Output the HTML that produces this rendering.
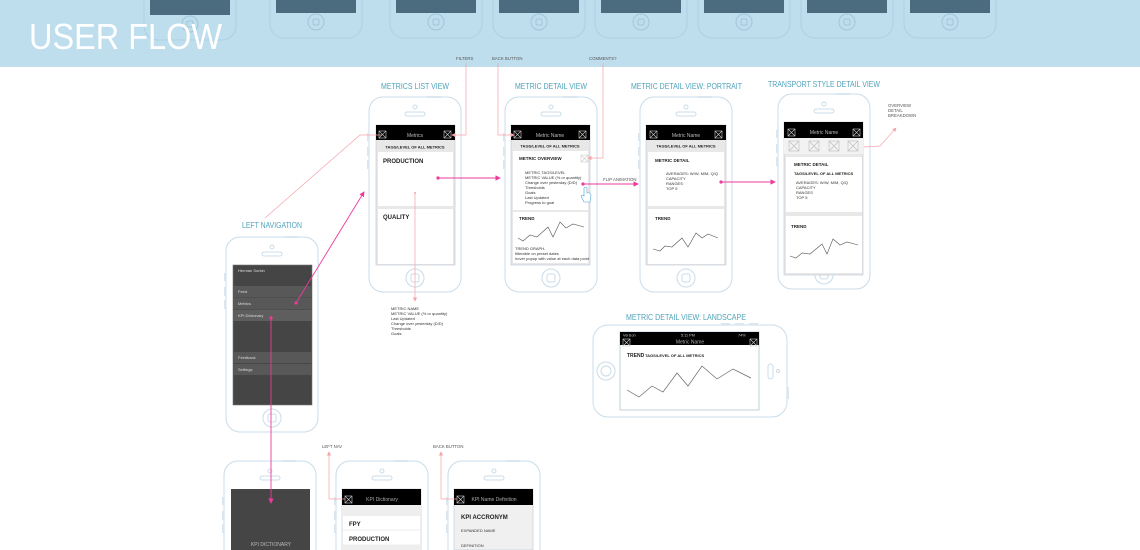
<!DOCTYPE html>
<html><head><meta charset="utf-8"><style>
html,body{margin:0;padding:0;background:#fff;width:1140px;height:550px;overflow:hidden}
svg{display:block;font-family:"Liberation Sans",sans-serif}
.t{fill:#4ea3ba;font-size:8.5px}
.s{font-size:4px;fill:#333}
.n{font-family:"Liberation Sans Narrow","Liberation Sans",sans-serif;font-weight:bold;fill:#222}
.a{font-size:4.3px;fill:#555}
</style></head><body>
<svg width="1140" height="550" viewBox="0 0 1140 550">
<defs>
<g id="ph">
<rect x="0" y="0" width="92" height="195" rx="14" fill="#fff" stroke="#c9dce9" stroke-width="1"/>
<circle cx="46" cy="10" r="2" fill="none" stroke="#c9dce9"/>
<rect x="36" y="15" width="20" height="4" rx="2" fill="none" stroke="#c9dce9"/>
<circle cx="46" cy="181" r="9" fill="none" stroke="#c9dce9"/>
<rect x="42" y="177" width="8" height="8" rx="2" fill="none" stroke="#c9dce9"/>
<rect x="-2" y="36" width="2" height="8" fill="#dbe7f0"/>
<rect x="-2" y="50" width="2" height="9" fill="#dbe7f0"/>
<rect x="-2" y="63" width="2" height="9" fill="#dbe7f0"/>
<rect x="58" y="-1" width="14" height="2" fill="#dbe7f0"/>
</g>
<g id="hp">
<rect x="0" y="-160" width="92" height="200" rx="14" fill="none" stroke="#acd0e2"/>
<rect x="6" y="-20" width="80" height="35" fill="#4b6b7e"/>
<circle cx="46" cy="24" r="8" fill="none" stroke="#9fc6da"/>
<rect x="43" y="21" width="6" height="6" rx="1.5" fill="none" stroke="#9fc6da"/>
</g>
<g id="xb"><rect x="0" y="0" width="7" height="7" fill="none" stroke="#ccc" stroke-width=".6"/><path d="M0 0L7 7M7 0L0 7" stroke="#ccc" stroke-width=".6"/></g>
<marker id="ar" markerWidth="6" markerHeight="6" refX="5" refY="3" orient="auto"><path d="M0 0L6 3L0 6z" fill="#ee3a9c"/></marker>
<marker id="al" markerWidth="6" markerHeight="6" refX="5" refY="3" orient="auto"><path d="M0 0L6 3L0 6z" fill="#f6a3ab"/></marker>
</defs>

<!-- header -->
<rect x="0" y="0" width="1140" height="67" fill="#bfdeed"/>
<use href="#hp" x="144" y="0"/><use href="#hp" x="270" y="-2"/><use href="#hp" x="390" y="-2"/><use href="#hp" x="493" y="-2"/><use href="#hp" x="595" y="-2"/><use href="#hp" x="698" y="-2"/><use href="#hp" x="801" y="-2"/><use href="#hp" x="904" y="-2"/>
<text x="29" y="49" fill="#fff" font-size="36" textLength="193" lengthAdjust="spacingAndGlyphs">USER FLOW</text>
<text x="456" y="60" class="a" font-size="4">FILTERS</text>
<text x="492" y="60" class="a" font-size="4">BACK BUTTON</text>
<text x="589" y="60" class="a" font-size="4">COMMENTS?</text>

<!-- titles -->
<text x="381" y="89" class="t" textLength="68" lengthAdjust="spacingAndGlyphs">METRICS LIST VIEW</text>
<text x="515" y="89" class="t" textLength="72" lengthAdjust="spacingAndGlyphs">METRIC DETAIL VIEW</text>
<text x="631" y="89" class="t" textLength="111" lengthAdjust="spacingAndGlyphs">METRIC DETAIL VIEW: PORTRAIT</text>
<text x="768" y="87" class="t" textLength="112" lengthAdjust="spacingAndGlyphs">TRANSPORT STYLE DETAIL VIEW</text>
<text x="242" y="228" class="t" textLength="60" lengthAdjust="spacingAndGlyphs">LEFT NAVIGATION</text>
<text x="626" y="320" class="t" textLength="120" lengthAdjust="spacingAndGlyphs">METRIC DETAIL VIEW:  LANDSCAPE</text>

<!-- phones -->
<use href="#ph" x="369" y="97"/>
<use href="#ph" x="505" y="97"/>
<use href="#ph" x="640" y="97"/>
<use href="#ph" x="778" y="94"/>
<use href="#ph" x="226" y="237"/>
<use href="#ph" x="224" y="461"/>
<use href="#ph" x="336" y="461"/>
<use href="#ph" x="448" y="461"/>

<!-- metrics list screen -->
<rect x="376" y="125" width="79" height="140" fill="#e8e8e8" stroke="#b9c6d2" stroke-width=".6"/>
<rect x="376" y="125" width="79" height="15" fill="#000"/>
<text x="415" y="137" font-size="5" fill="#bbb" text-anchor="middle">Metrics</text>
<use href="#xb" x="379" y="131"/>
<use href="#xb" x="444" y="131"/>
<text x="415" y="148.5" class="n" font-size="4" text-anchor="middle">TAGS/LEVEL OF ALL METRICS</text>
<rect x="378" y="152" width="75" height="54" fill="#fff"/>
<text x="383" y="163" class="n" font-size="6">PRODUCTION</text>
<rect x="378" y="209" width="75" height="55" fill="#fff"/>
<text x="383" y="219" class="n" font-size="6">QUALITY</text>

<!-- detail screen -->
<rect x="511" y="125" width="79" height="140" fill="#e8e8e8" stroke="#b9c6d2" stroke-width=".6"/>
<rect x="511" y="125" width="79" height="15" fill="#000"/>
<text x="550" y="137" font-size="5" fill="#bbb" text-anchor="middle">Metric Name</text>
<use href="#xb" x="514" y="131"/><use href="#xb" x="579" y="131"/>
<text x="550" y="147.5" class="n" font-size="4" text-anchor="middle">TAGS/LEVEL OF ALL METRICS</text>
<rect x="513" y="151" width="75" height="59" fill="#fff"/>
<text x="519" y="160" class="n" font-size="4.5">METRIC OVERVIEW</text>
<use href="#xb" x="581" y="155"/>
<text x="525" y="174" class="s">METRIC TAGS/LEVEL</text>
<text x="525" y="179" class="s">METRIC VALUE (% or quantity)</text>
<text x="525" y="184" class="s" fill="#888">Change over yesterday (D/D)</text>
<text x="525" y="189" class="s" fill="#888">Thresholds</text>
<text x="525" y="194" class="s" fill="#888">Goals</text>
<text x="525" y="199" class="s" fill="#888">Last Updated</text>
<text x="525" y="204" class="s" fill="#3a9ab8">Progress to goal</text>
<rect x="513" y="212" width="75" height="51" fill="#fff"/>
<text x="519" y="220" class="n" font-size="4.5">TREND</text>
<polyline points="518,238 523,241 530,235 537,237 548,227 553,237 560,222 566,228 573,224 584,227" fill="none" stroke="#555" stroke-width=".6"/>
<text x="515" y="250" class="s">TREND GRAPH-</text>
<text x="515" y="255" class="s">filterable on preset dates</text>
<text x="515" y="260" class="s">hover popup with value at each data point</text>
<path d="M584 188 q2 -2 3 0 l0 5 q3 -1 4 2 l-1 7 l-6 0 l-3 -6 q1 -2 3 0z" fill="#fff" stroke="#4aa6d0" stroke-width=".6"/>

<!-- portrait screen -->
<rect x="646" y="125" width="80" height="140" fill="#e8e8e8" stroke="#b9c6d2" stroke-width=".6"/>
<rect x="646" y="125" width="80" height="15" fill="#000"/>
<text x="686" y="137" font-size="5" fill="#bbb" text-anchor="middle">Metric Name</text>
<use href="#xb" x="650" y="131"/><use href="#xb" x="715" y="131"/>
<text x="686" y="147.5" class="n" font-size="4" text-anchor="middle">TAGS/LEVEL OF ALL METRICS</text>
<rect x="648" y="152" width="76" height="54" fill="#fff"/>
<text x="655" y="162" class="n" font-size="4.5">METRIC DETAIL</text>
<text x="666" y="175" class="s">AVERAGES:  W/W, M/M, Q/Q</text>
<text x="666" y="180" class="s">CAPACITY</text>
<text x="666" y="185" class="s">RANGES</text>
<text x="666" y="190" class="s">TOP 5</text>
<rect x="648" y="209" width="76" height="55" fill="#fff"/>
<text x="655" y="220" class="n" font-size="4.5">TREND</text>
<polyline points="653,249 660,251 665,246 672,247 682,238 688,247 696,233 702,238 708,234 718,238" fill="none" stroke="#555" stroke-width=".6"/>

<!-- transport screen -->
<rect x="784" y="122" width="79" height="153" fill="#e8e8e8" stroke="#b9c6d2" stroke-width=".6"/>
<rect x="784" y="122" width="79" height="16" fill="#000"/>
<text x="824" y="134" font-size="5" fill="#bbb" text-anchor="middle">Metric Name</text>
<use href="#xb" x="788" y="129"/><use href="#xb" x="853" y="129"/>
<rect x="784" y="138" width="79" height="16" fill="#f2f2f2"/>
<g><rect x="789" y="141" width="10" height="10" fill="none" stroke="#bbb" stroke-width=".6"/><path d="M789 141l10 10M799 141l-10 10" stroke="#bbb" stroke-width=".6"/>
<rect x="809" y="141" width="10" height="10" fill="none" stroke="#bbb" stroke-width=".6"/><path d="M809 141l10 10M819 141l-10 10" stroke="#bbb" stroke-width=".6"/>
<rect x="829" y="141" width="10" height="10" fill="none" stroke="#bbb" stroke-width=".6"/><path d="M829 141l10 10M839 141l-10 10" stroke="#bbb" stroke-width=".6"/>
<rect x="848" y="141" width="10" height="10" fill="none" stroke="#bbb" stroke-width=".6"/><path d="M848 141l10 10M858 141l-10 10" stroke="#bbb" stroke-width=".6"/></g>
<rect x="786" y="157" width="76" height="55" fill="#fff"/>
<text x="794" y="166" class="n" font-size="4.5">METRIC DETAIL</text>
<text x="794" y="175" class="n" font-size="4">TAGS/LEVEL OF ALL METRICS</text>
<text x="796" y="184" class="s">AVERAGES:  W/W, M/M, Q/Q</text>
<text x="796" y="189" class="s">CAPACITY</text>
<text x="796" y="194" class="s">RANGES</text>
<text x="796" y="199" class="s">TOP 5</text>
<rect x="786" y="216" width="76" height="57" fill="#fff"/>
<text x="791" y="228" class="n" font-size="4.5">TREND</text>
<polyline points="790,256 796,258 802,253 810,254 822,244 827,254 833,239 840,245 847,242 858,245" fill="none" stroke="#555" stroke-width=".6"/>
<text x="888" y="107" class="a" font-size="4">OVERVIEW</text>
<text x="888" y="112" class="a" font-size="4">DETAIL</text>
<text x="888" y="117" class="a" font-size="4">BREAKDOWN</text>
<polyline points="864,147 880,146 896,128" fill="none" stroke="#f6a3ab" stroke-width=".7" marker-end="url(#al)"/>

<!-- left nav screen -->
<rect x="233" y="265" width="79" height="140" fill="#454545" stroke="#777" stroke-width=".6"/>
<text x="238" y="272" font-size="4" fill="#ddd">Herman Sorkin</text>
<rect x="233" y="286" width="79" height="11.5" fill="#585858"/>
<rect x="233" y="298" width="79" height="11.5" fill="#585858"/>
<rect x="233" y="310" width="79" height="11" fill="#5e5e5e"/>
<rect x="233" y="352" width="79" height="11" fill="#585858"/>
<rect x="233" y="364" width="79" height="11" fill="#585858"/>
<text x="238" y="293" font-size="4" fill="#ddd">Feed</text>
<text x="238" y="305" font-size="4" fill="#ddd">Metrics</text>
<text x="238" y="317" font-size="4" fill="#ddd">KPI Dictionary</text>
<text x="238" y="359" font-size="4" fill="#ddd">Feedback</text>
<text x="238" y="371" font-size="4" fill="#ddd">Settings</text>

<!-- landscape -->
<rect x="593" y="325" width="194" height="92" rx="15" fill="#fff" stroke="#c9dce9"/>
<circle cx="606" cy="371" r="9" fill="none" stroke="#c9dce9"/><circle cx="606" cy="371" r="5" fill="none" stroke="#c9dce9"/>
<rect x="768" y="364" width="5" height="15" rx="2.5" fill="none" stroke="#c9dce9"/>
<circle cx="778" cy="371" r="1.5" fill="none" stroke="#c9dce9"/>
<rect x="787" y="387" width="2" height="12" fill="#dbe7f0"/>
<rect x="721" y="323" width="9" height="2" fill="#dbe7f0"/><rect x="735" y="323" width="9" height="2" fill="#dbe7f0"/><rect x="749" y="323" width="9" height="2" fill="#dbe7f0"/>
<rect x="620" y="332" width="139" height="78" fill="#fff" stroke="#a9bccb" stroke-width=".7"/>
<rect x="620" y="332" width="139" height="13" fill="#000"/>
<text x="623" y="336.5" font-size="3.8" fill="#ccc">Verizon</text>
<text x="681" y="336.5" font-size="3.8" fill="#ccc">5:11 PM</text>
<text x="738" y="336.5" font-size="3.8" fill="#ccc">74%</text>
<text x="690" y="343.5" font-size="5" fill="#aaa" text-anchor="middle">Metric Name</text>
<use href="#xb" x="623" y="339"/>
<use href="#xb" x="750" y="339"/>
<text x="627" y="357" class="n" font-size="5">TREND</text>
<text x="645" y="357" class="n" font-size="4">TAGS/LEVEL OF ALL METRICS</text>
<polyline points="627,390 639,397 652,386 663,392 677,373 688,386 702,366 717,379 733,369 751,378" fill="none" stroke="#666" stroke-width=".7"/>

<!-- annotation under list -->
<text x="391" y="310" class="s">METRIC NAME</text>
<text x="391" y="315" class="s">METRIC VALUE (% or quantity)</text>
<text x="391" y="320" class="s">Last Updated</text>
<text x="391" y="325" class="s" fill="#3a9ab8">Change over yesterday (D/D)</text>
<text x="391" y="330" class="s" fill="#3a9ab8">Thresholds</text>
<text x="391" y="335" class="s" fill="#3a9ab8">Goals</text>
<circle cx="415" cy="193" r="1" fill="#f6a3ab"/>
<line x1="415" y1="193" x2="415" y2="301" stroke="#f6a3ab" stroke-width=".7" marker-end="url(#al)"/>

<!-- bottom phones screens -->
<rect x="231" y="489" width="79" height="61" fill="#454545"/>
<text x="271" y="546" font-size="5" fill="#bbb" text-anchor="middle">KPI DICTIONARY</text>
<rect x="342" y="489" width="79" height="61" fill="#fff" stroke="#b9c6d2" stroke-width=".6"/>
<rect x="342" y="489" width="79" height="16" fill="#000"/>
<text x="382" y="501" font-size="5" fill="#aaa" text-anchor="middle">KPI Dictionary</text>
<use href="#xb" x="345" y="496"/>
<rect x="342" y="505" width="79" height="11" fill="#eee"/>
<line x1="342" y1="530" x2="421" y2="530" stroke="#ddd" stroke-width=".6"/>
<line x1="342" y1="545" x2="421" y2="545" stroke="#ddd" stroke-width=".6"/>
<rect x="342" y="545" width="79" height="5" fill="#eee"/>
<text x="349" y="526" class="n" font-size="6">FPY</text>
<text x="349" y="541" class="n" font-size="6">PRODUCTION</text>
<rect x="454" y="489" width="79" height="61" fill="#f0f0f0" stroke="#b9c6d2" stroke-width=".6"/>
<rect x="454" y="489" width="79" height="16" fill="#000"/>
<text x="494" y="501" font-size="5" fill="#aaa" text-anchor="middle">KPI Name Definition</text>
<use href="#xb" x="457" y="496"/>
<text x="461" y="519" class="n" font-size="6">KPI ACCRONYM</text>
<text x="461" y="532" class="s">EXPANDED NAME</text>
<text x="461" y="547" class="s">DEFINITION</text>
<text x="322" y="448" class="a" font-size="4">LEFT NAV</text>
<text x="433" y="448" class="a" font-size="4">BACK BUTTON</text>
<polyline points="345,499 329,499 329,452" fill="none" stroke="#f6a3ab" stroke-width=".7" marker-end="url(#al)"/>
<polyline points="457,499 441,499 441,452" fill="none" stroke="#f6a3ab" stroke-width=".7" marker-end="url(#al)"/>

<!-- light pink annotation lines top -->
<polyline points="466,63 466,135 452,135" fill="none" stroke="#f6a3ab" stroke-width=".7" marker-end="url(#al)"/>
<polyline points="498,63 498,135 514,135" fill="none" stroke="#f6a3ab" stroke-width=".7" marker-end="url(#al)"/>
<polyline points="603,63 603,158 588,158" fill="none" stroke="#f6a3ab" stroke-width=".7" marker-end="url(#al)"/>
<polyline points="382,135 360,135 265,218" fill="none" stroke="#f6a3ab" stroke-width=".7"/>

<!-- magenta arrows -->
<circle cx="438" cy="178" r="1.6" fill="#ee3a9c"/>
<line x1="438" y1="178" x2="500" y2="178" stroke="#ee3a9c" stroke-width=".9" marker-end="url(#ar)"/>
<circle cx="583" cy="184" r="1.6" fill="#ee3a9c"/>
<line x1="583" y1="184" x2="638" y2="184" stroke="#ee3a9c" stroke-width=".9" marker-end="url(#ar)"/>
<text x="603" y="181" class="a" font-size="4">FLIP ANIMATION</text>
<circle cx="721" cy="182" r="1.6" fill="#ee3a9c"/>
<line x1="721" y1="182" x2="775" y2="182" stroke="#ee3a9c" stroke-width=".9" marker-end="url(#ar)"/>
<circle cx="296" cy="303" r="1.6" fill="#ee3a9c"/>
<line x1="296" y1="303" x2="364" y2="192" stroke="#ee3a9c" stroke-width=".9" marker-end="url(#ar)"/>
<circle cx="271" cy="318" r="1.6" fill="#ee3a9c"/>
<line x1="271" y1="318" x2="271" y2="503" stroke="#ee3a9c" stroke-width=".9" marker-end="url(#ar)"/>
</svg>
</body></html>
